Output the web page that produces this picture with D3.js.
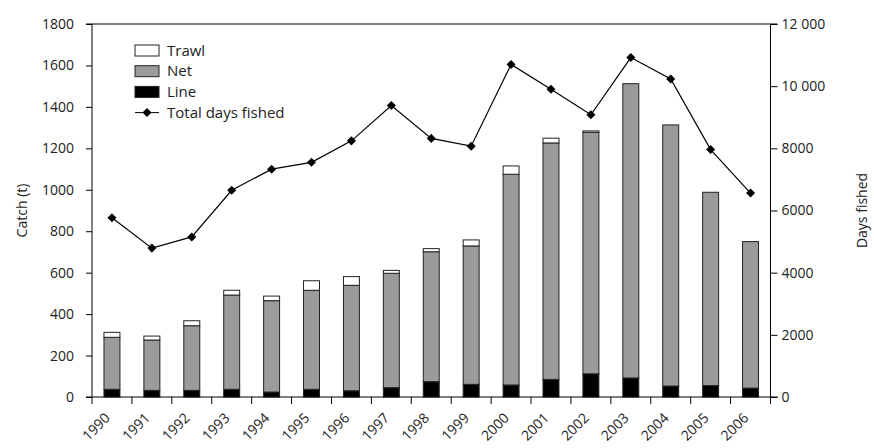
<!DOCTYPE html>
<html>
<head>
<meta charset="utf-8">
<script src="https://cdn.jsdelivr.net/npm/d3@7"></script>
<style>
  body { margin: 0; background: #fff; }
  svg text { font-family: "Open Sans", "Noto Sans", sans-serif; fill: #222; }
</style>
</head>
<body>
<div id="chart"></div>
<script>
// chart data
var years = ["1990", "1991", "1992", "1993", "1994", "1995", "1996", "1997", "1998",
             "1999", "2000", "2001", "2002", "2003", "2004", "2005", "2006"];
var lineCatch  = [37, 32, 32, 37, 24, 37, 30, 45, 74, 61, 58, 85, 112, 92, 53, 55, 43];
var netCatch   = [251, 243, 312, 455, 441, 478, 509, 552, 627, 668, 1017, 1141, 1165, 1420, 1260, 933, 707];
var trawlCatch = [24, 19, 24, 23, 22, 46, 42, 14, 15, 29, 40, 23, 7, 0, 0, 0, 0];
var daysFished = [5770, 4790, 5150, 6650, 7330, 7550, 8240, 9380, 8320, 8070,
                  10700, 9900, 9080, 10920, 10230, 7960, 6560];
var catchTicks = [0, 200, 400, 600, 800, 1000, 1200, 1400, 1600, 1800];
var daysTicks = [0, 2000, 4000, 6000, 8000, 10000, 12000];
var daysTickLabels = ["0", "2000", "4000", "6000", "8000", "10 000", "12 000"];
var seriesKeys = ["line", "net", "trawl"];
var legendNames = ["Trawl", "Net", "Line", "Total days fished"];

let width = 874;
let height = 448;
var margin = {top: 24, right: 103.5, bottom: 51, left: 92};
var colors = {line: "#000000", net: "#9b9b9b", trawl: "#ffffff"};

var innerW = width - margin.left - margin.right;
var innerH = height - margin.top - margin.bottom;

var rows = years.map(function(y, i) {
    return {year: y, line: lineCatch[i], net: netCatch[i], trawl: trawlCatch[i], days: daysFished[i]};
});

var svg = d3.select("#chart").append("svg")
    .attr("width", width)
    .attr("height", height)
    .append("g")
    .attr("transform", "translate(" + margin.left + "," + margin.top + ")");

var xScale = d3.scaleBand()
    .domain(years)
    .range([0, innerW])
    .paddingInner(0.6)
    .paddingOuter(0.3);

var yScale = d3.scaleLinear().domain([0, 1800]).range([innerH, 0]);
var y2Scale = d3.scaleLinear().domain([0, 12000]).range([innerH, 0]);

// stacked bars
var stacked = d3.stack().keys(seriesKeys)(rows);

svg.selectAll("g.layer")
    .data(stacked)
    .enter().append("g")
    .attr("class", "layer")
    .attr("fill", function(d) { return colors[d.key]; })
    .selectAll("rect")
    .data(function(d) { return d.filter(function(p) { return p[1] - p[0] > 0; }); })
    .enter().append("rect")
    .attr("x", function(d) { return xScale(d.data.year); })
    .attr("width", xScale.bandwidth())
    .attr("y", function(d) { return yScale(d[1]); })
    .attr("height", function(d) { return yScale(d[0]) - yScale(d[1]); })
    .attr("stroke", "#222")
    .attr("stroke-width", 1);

// axes
var leftAxis = d3.axisLeft(yScale).tickValues(catchTicks).tickSize(6).tickPadding(12)
    .tickFormat(d3.format("d"));
svg.append("g").attr("class", "axis").call(leftAxis);

var rightAxis = d3.axisRight(y2Scale).tickValues(daysTicks).tickSize(7).tickPadding(4)
    .tickFormat(function(d, i) { return daysTickLabels[i]; });
svg.append("g").attr("class", "axis")
    .attr("transform", "translate(" + innerW + ",0)")
    .call(rightAxis);

// bottom axis: ticks between categories
var bottom = svg.append("g").attr("class", "axis")
    .attr("transform", "translate(0," + innerH + ")");
bottom.append("line")
    .attr("x1", -6).attr("x2", innerW + 7)
    .attr("stroke", "#000");
var step = xScale.step();
var bounds = d3.range(years.length + 1).map(function(i) { return i * step; });
bottom.selectAll("line.tick")
    .data(bounds)
    .enter().append("line")
    .attr("class", "tick")
    .attr("x1", function(d) { return d; })
    .attr("x2", function(d) { return d; })
    .attr("y1", 0).attr("y2", 7)
    .attr("stroke", "#000");
bottom.selectAll("text")
    .data(years)
    .enter().append("text")
    .attr("transform", function(d) {
        return "translate(" + (xScale(d) + xScale.bandwidth() / 2 - 8) + ",15) rotate(-45)";
    })
    .attr("text-anchor", "end")
    .attr("dy", "0.7em")
    .style("font-size", "14px")
    .text(function(d) { return d; });

// top frame line
svg.append("line")
    .attr("x1", -6).attr("x2", innerW + 7)
    .attr("y1", 0).attr("y2", 0)
    .attr("stroke", "#000");

svg.selectAll(".axis .tick line").attr("stroke", "#000");
svg.selectAll(".axis .tick text").style("font-size", "14px");
// plain vertical domain lines, no outer ticks
svg.selectAll(".axis path.domain")
    .attr("stroke", "#000")
    .attr("d", "M0,0V" + innerH);

// days fished line
var lineGen = d3.line()
    .x(function(d) { return xScale(d.year) + xScale.bandwidth() / 2; })
    .y(function(d) { return y2Scale(d.days); });

svg.append("path")
    .datum(rows)
    .attr("d", lineGen)
    .attr("fill", "none")
    .attr("stroke", "#000")
    .attr("stroke-width", 1.2);

var diamond = d3.symbol().type(d3.symbolDiamond2).size(52);
svg.selectAll("path.marker")
    .data(rows)
    .enter().append("path")
    .attr("class", "marker")
    .attr("d", diamond)
    .attr("transform", function(d) {
        return "translate(" + (xScale(d.year) + xScale.bandwidth() / 2) + "," + y2Scale(d.days) + ")";
    })
    .attr("fill", "#000");

// axis titles
svg.append("text")
    .attr("transform", "rotate(-90)")
    .attr("x", -innerH / 2)
    .attr("y", -65)
    .style("text-anchor", "middle")
    .style("font-size", "14px")
    .text("Catch (t)");

svg.append("text")
    .attr("transform", "rotate(-90)")
    .attr("x", -innerH / 2)
    .attr("y", innerW + 96)
    .style("text-anchor", "middle")
    .style("font-size", "14px")
    .text("Days fished");

// legend
var legend = svg.append("g").attr("transform", "translate(43,21)");
var legendKeys = ["trawl", "net", "line"];
legend.selectAll("rect")
    .data(legendKeys)
    .enter().append("rect")
    .attr("x", 0)
    .attr("y", function(d, i) { return i * 20.7; })
    .attr("width", 24)
    .attr("height", 11)
    .attr("fill", function(d) { return colors[d]; })
    .attr("stroke", "#222");
legend.append("line")
    .attr("x1", 0).attr("x2", 24)
    .attr("y1", 3 * 20.7 + 5.5).attr("y2", 3 * 20.7 + 5.5)
    .attr("stroke", "#000");
legend.append("path")
    .attr("d", diamond)
    .attr("transform", "translate(12," + (3 * 20.7 + 5.5) + ")");
legend.selectAll("text")
    .data(legendNames)
    .enter().append("text")
    .attr("x", 32)
    .attr("y", function(d, i) { return i * 20.7 + 5.5; })
    .attr("dy", "0.35em")
    .style("font-size", "15px")
    .text(function(d) { return d; });
</script>
</body>
</html>
